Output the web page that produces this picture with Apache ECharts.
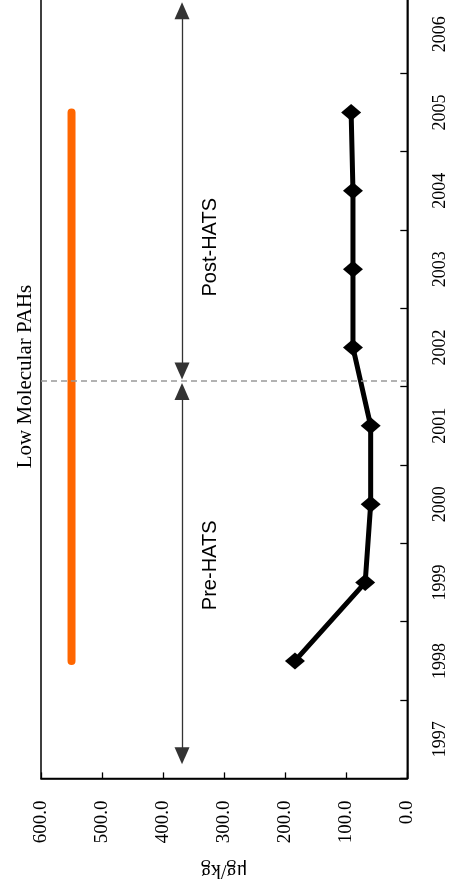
<!DOCTYPE html>
<html>
<head>
<meta charset="utf-8">
<script src="https://cdn.jsdelivr.net/npm/echarts@6/dist/echarts.min.js"></script>
<style>html,body{margin:0;padding:0;background:#fff;overflow:hidden;}#c{position:absolute;left:0;top:-5px;width:452px;height:898px;}</style>
</head>
<body>
<div id="c"></div>
<script>
var years = ['1997','1998','1999','2000','2001','2002','2003','2004','2005','2006'];
var pahValues = [null, 184, 69, 60, 60, 89, 89, 89, 92, null];
var referenceValues = [null, 550, 550, 550, 550, 550, 550, 550, 550, null];
var valueTicks = [0, 100, 200, 300, 400, 500, 600];
var hatsStart = 2001.58;      // dashed divider (year position)
var arrowValue = 369;         // value position of period arrows
var periodLabelValue = 323;   // value position of period labels
var postArrow = [2006.30, 2001.70];
var preArrow = [2001.44, 1996.79];
var postLabelYear = 2003.28;
var preLabelYear = 1999.22;
var titleYear = 2001.63;

var chart = echarts.init(document.getElementById('c'));
var serif = 'Liberation Serif, Times New Roman, serif';
var sans = 'Liberation Sans, Arial, sans-serif';

var option = {
  animation: false,
  backgroundColor: '#fff',
  grid: { left: 41, right: 44.7, top: 0, bottom: 114.6, show: true, borderColor: '#000', borderWidth: 1.5, backgroundColor: 'transparent' },
  xAxis: [{
    type: 'value', inverse: true, min: valueTicks[0], max: valueTicks[valueTicks.length-1], interval: 100,
    position: 'bottom',
    axisLine: { show: true, lineStyle: { color: '#000', width: 1.5 } },
    axisTick: { show: true, inside: true, length: 6, lineStyle: { color: '#000', width: 1.3 } },
    splitLine: { show: false },
    axisLabel: { rotate: 90, margin: 22, color: '#000', fontFamily: serif, fontSize: 19,
      formatter: function (v) { return v.toFixed(1); } },
    name: 'μg/kg', nameLocation: 'middle', nameGap: 82, nameRotate: 180,
    nameTextStyle: { color: '#000', fontFamily: serif, fontSize: 20 }
  }],
  yAxis: [{
    type: 'category', data: years, position: 'right', boundaryGap: true,
    axisLine: { show: true, lineStyle: { color: '#000', width: 1.5 } },
    axisTick: { show: true, inside: true, length: 7, lineStyle: { color: '#000', width: 1.3 } },
    splitLine: { show: false },
    axisLabel: { rotate: 90, margin: 24, color: '#000', fontFamily: serif, fontSize: 18 }
  }, {
    type: 'value', min: 1996.5, max: 2006.5, show: false,
    axisLine: { show: false }, axisTick: { show: false }, axisLabel: { show: false }, splitLine: { show: false }
  }],
  series: [{
    name: 'Reference', type: 'line', xAxisIndex: 0, yAxisIndex: 0,
    data: referenceValues, symbol: 'none',
    lineStyle: { color: '#FF6600', width: 8, cap: 'round' }, z: 2
  }, {
    name: 'Low Molecular PAHs', type: 'line', xAxisIndex: 0, yAxisIndex: 0,
    data: pahValues, symbol: 'diamond', symbolSize: [20, 17],
    itemStyle: { color: '#000' },
    lineStyle: { color: '#000', width: 5 }, z: 3
  }, {
    name: 'annot', type: 'line', xAxisIndex: 0, yAxisIndex: 1, data: [], z: 4,
    markLine: {
      silent: true, animation: false,
      label: { show: false },
      data: [
        [{ coord: [valueTicks[valueTicks.length-1], hatsStart], symbol: 'none', lineStyle: { color: '#999', width: 1.6, type: [6, 4] } },
         { coord: [valueTicks[0], hatsStart], symbol: 'none' }],
        [{ coord: [arrowValue, postArrow[0]], symbol: 'triangle', symbolSize: [15, 17], lineStyle: { color: '#333', width: 1.3, type: 'solid' }, itemStyle: { color: '#000' } },
         { coord: [arrowValue, postArrow[1]], symbol: 'triangle', symbolSize: [15, 17] }],
        [{ coord: [arrowValue, preArrow[0]], symbol: 'triangle', symbolSize: [15, 17], lineStyle: { color: '#333', width: 1.3, type: 'solid' }, itemStyle: { color: '#000' } },
         { coord: [arrowValue, preArrow[1]], symbol: 'triangle', symbolSize: [15, 17] }]
      ]
    }
  }]
};
chart.setOption(option);

var pPost = chart.convertToPixel({ xAxisIndex: 0, yAxisIndex: 1 }, [periodLabelValue, postLabelYear]);
var pPre = chart.convertToPixel({ xAxisIndex: 0, yAxisIndex: 1 }, [periodLabelValue, preLabelYear]);
var pTitle = chart.convertToPixel({ xAxisIndex: 0, yAxisIndex: 1 }, [630, titleYear]);

chart.setOption({
  graphic: [
    { type: 'text', x: 25, y: pTitle[1], rotation: Math.PI / 2,
      style: { text: 'Low Molecular PAHs', font: '21px ' + serif, fill: '#000', align: 'center', verticalAlign: 'middle' } },
    { type: 'text', x: pPost[0], y: pPost[1], rotation: Math.PI / 2,
      style: { text: 'Post-HATS', font: '20px ' + sans, fill: '#000', align: 'center', verticalAlign: 'middle' } },
    { type: 'text', x: pPre[0], y: pPre[1], rotation: Math.PI / 2,
      style: { text: 'Pre-HATS', font: '20px ' + sans, fill: '#000', align: 'center', verticalAlign: 'middle' } }
  ]
});
</script>
</body>
</html>
